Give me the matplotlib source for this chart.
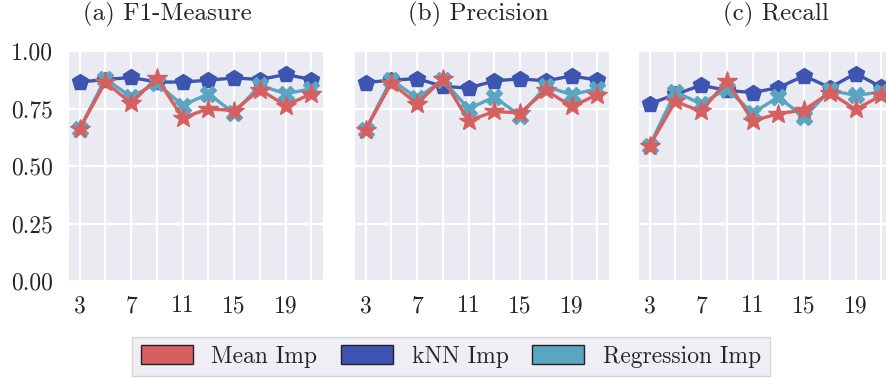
import matplotlib
matplotlib.use("Agg")
import matplotlib.pyplot as plt
import seaborn as sns
from matplotlib.patches import Patch

sns.set_style("darkgrid")
plt.rcParams['font.family'] = ['cmr10', 'DejaVu Serif']
plt.rcParams['mathtext.fontset'] = 'cm'
plt.rcParams['axes.formatter.use_mathtext'] = True

k_values = [3, 5, 7, 9, 11, 13, 15, 17, 19, 21]
tick_labels = ['3', '', '7', '', '11', '', '15', '', '19', '']
titles = ['(a) F1-Measure', '(b) Precision', '(c) Recall']
title_x = [0.388, 0.486, 0.541]
series_names = ['Mean Imp', 'kNN Imp', 'Regression Imp']

f1_mean = [0.661, 0.865, 0.773, 0.883, 0.709, 0.749, 0.741, 0.832, 0.763, 0.814]
f1_knn = [0.865, 0.876, 0.885, 0.865, 0.865, 0.873, 0.883, 0.876, 0.898, 0.876]
f1_reg = [0.661, 0.880, 0.800, 0.861, 0.763, 0.814, 0.730, 0.851, 0.814, 0.836]

pr_mean = [0.658, 0.861, 0.770, 0.880, 0.697, 0.737, 0.731, 0.829, 0.759, 0.810]
pr_knn = [0.863, 0.873, 0.880, 0.846, 0.839, 0.870, 0.879, 0.870, 0.892, 0.873]
pr_reg = [0.658, 0.876, 0.795, 0.873, 0.749, 0.800, 0.719, 0.846, 0.810, 0.836]

re_mean = [0.588, 0.781, 0.737, 0.870, 0.697, 0.727, 0.744, 0.819, 0.746, 0.807]
re_knn = [0.770, 0.811, 0.851, 0.829, 0.819, 0.841, 0.892, 0.841, 0.902, 0.843]
re_reg = [0.588, 0.822, 0.770, 0.836, 0.730, 0.800, 0.712, 0.829, 0.807, 0.822]

panels = [
    (f1_mean, f1_knn, f1_reg),
    (pr_mean, pr_knn, pr_reg),
    (re_mean, re_knn, re_reg),
]

c_mean = '#d65f5f'
c_knn = '#3d55b0'
c_reg = '#5aa6c2'

fig = plt.figure(figsize=(8.86, 3.79), dpi=100)
lefts = [68 / 886, 354 / 886, 638 / 886]
bottom = 1 - 281 / 379
height = 230 / 379
width = 255 / 886

for i, (mean, knn, reg) in enumerate(panels):
    ax = fig.add_axes([lefts[i], bottom, width, height])
    ax.plot(k_values, knn, color=c_knn, marker='p', markersize=12, lw=2.4, zorder=3)
    ax.plot(k_values, reg, color=c_reg, marker='X', markersize=12, lw=2.4, zorder=4)
    ax.plot(k_values, mean, color=c_mean, marker='*', markersize=15, lw=2.4, zorder=5)
    ax.set_ylim(0, 1.0)
    ax.set_yticks([0, 0.25, 0.5, 0.75, 1.0])
    if i == 0:
        ax.set_yticklabels(['0.00', '0.25', '0.50', '0.75', '1.00'])
    else:
        ax.set_yticklabels([])
    ax.set_xticks(k_values)
    ax.set_xticklabels(tick_labels)
    ax.tick_params(axis='both', labelsize=17, length=0)
    ax.tick_params(axis='x', pad=10)
    ax.tick_params(axis='y', pad=11)
    ax.grid(True, color='white', lw=1.6)
    ax.set_title(titles[i], fontsize=18, pad=22, x=title_x[i])

handles = [Patch(facecolor=c, edgecolor='#222222', lw=1) for c in (c_mean, c_knn, c_reg)]
leg = fig.legend(handles, series_names, loc='upper center', ncol=3,
                 bbox_to_anchor=(451 / 886, 1 - 337 / 379), fontsize=17,
                 frameon=True, facecolor='#eaeaf2', edgecolor='#cccccc',
                 handlelength=2.2, handleheight=0.85, columnspacing=1.0,
                 handletextpad=0.8, borderpad=0.35, borderaxespad=0,
                 fancybox=False)
leg.get_frame().set_linewidth(1.0)

fig.savefig('out.png', dpi=100)
